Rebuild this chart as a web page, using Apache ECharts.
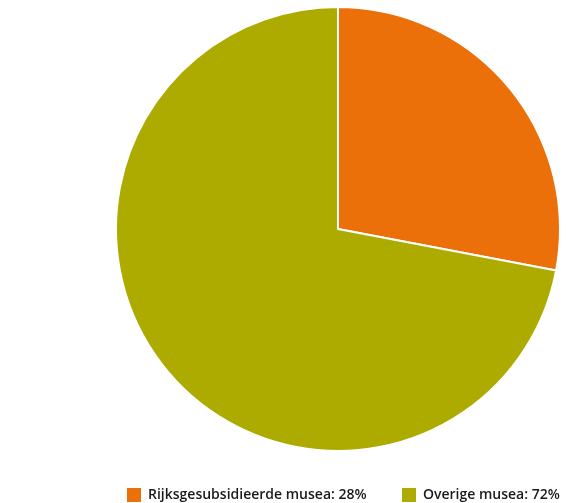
<!DOCTYPE html>
<html>
<head>
<meta charset="utf-8">
<script src="https://cdn.jsdelivr.net/npm/echarts@6/dist/echarts.min.js"></script>
<style>html,body{margin:0;padding:0;background:#fff}#c{width:572px;height:503px}</style>
</head>
<body>
<div id="c"></div>
<script>
var categories = ['Rijksgesubsidieerde musea: 28%', 'Overige musea: 72%'];
var values = [28, 72];
var colors = ['#EC7009', '#ADAB00'];

var chart = echarts.init(document.getElementById('c'), null, {renderer: 'canvas'});
var data = categories.map(function (c, i) {
  return {name: c, value: values[i], itemStyle: {color: colors[i]}};
});
var legendStyle = {
  top: 483, itemWidth: 14, itemHeight: 14, itemGap: 10,
  icon: 'rect',
  itemStyle: {borderWidth: 0},
  textStyle: {fontFamily: 'Open Sans', fontSize: 14, fontWeight: 600, color: '#1a1a1a', padding: [0, 0, 0, 2]}
};
chart.setOption({
  animation: false,
  legend: [
    Object.assign({left: 122, data: [categories[0]]}, legendStyle),
    Object.assign({left: 397, data: [categories[1]]}, legendStyle)
  ],
  series: [{
    type: 'pie',
    center: [338, 229],
    radius: 222,
    startAngle: 90,
    clockwise: true,
    label: {show: false},
    labelLine: {show: false},
    emphasis: {disabled: true},
    itemStyle: {borderColor: '#fff', borderWidth: 2},
    data: data
  }]
});
</script>
</body>
</html>
